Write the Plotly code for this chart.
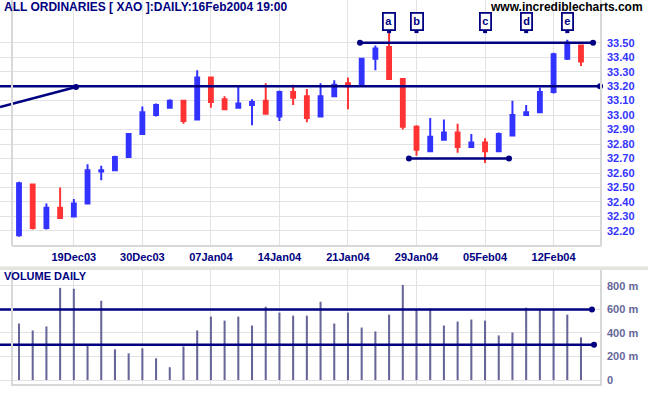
import plotly.graph_objects as go

# ---------------- data ----------------
opens  = [32.17, 32.52, 32.22, 32.36, 32.30, 32.39, 32.61, 32.62, 32.71, 32.87,
          33.00, 33.05, 33.10, 32.97, 33.26, 33.11, 33.05, 33.07, 33.10, 32.99,
          33.16, 33.13, 32.99, 33.13, 33.22, 33.21, 33.39, 33.47, 33.25, 32.92,
          32.75, 32.83, 32.88, 32.78, 32.81, 32.75, 32.86, 33.00, 33.02, 33.16,
          33.39, 33.48]
highs  = [32.54, 32.52, 32.39, 32.50, 32.42, 32.66, 32.65, 32.72, 32.87, 33.06,
          33.08, 33.11, 33.10, 33.31, 33.26, 33.13, 33.20, 33.11, 33.22, 33.17,
          33.21, 33.18, 33.22, 33.24, 33.26, 33.39, 33.48, 33.58, 33.25, 32.93,
          32.98, 32.97, 32.94, 32.87, 32.84, 32.88, 33.10, 33.07, 33.19, 33.43,
          33.52, 33.48]
lows   = [32.16, 32.21, 32.21, 32.29, 32.30, 32.39, 32.55, 32.62, 32.71, 32.87,
          32.99, 33.05, 32.94, 32.97, 33.05, 33.04, 33.05, 32.93, 33.01, 32.96,
          33.07, 32.95, 32.99, 33.13, 33.04, 33.21, 33.31, 33.25, 32.90, 32.72,
          32.75, 32.83, 32.74, 32.78, 32.67, 32.75, 32.86, 33.00, 33.02, 33.15,
          33.38, 33.34]
closes = [32.53, 32.22, 32.36, 32.29, 32.39, 32.62, 32.62, 32.71, 32.87, 33.02,
          33.07, 33.10, 32.96, 33.26, 33.09, 33.04, 33.08, 33.09, 33.01, 33.16,
          33.12, 32.98, 33.13, 33.21, 33.20, 33.39, 33.46, 33.25, 32.92, 32.76,
          32.85, 32.88, 32.78, 32.81, 32.75, 32.87, 33.00, 33.02, 33.16, 33.42,
          33.50, 33.37]
volumes_m = [480, 421, 455, 783, 775, 295, 674, 261, 227, 269,
             185, 109, 286, 421, 539, 505, 539, 463, 623, 573,
             547, 547, 665, 480, 573, 446, 413, 556, 808, 598,
             606, 463, 497, 514, 505, 379, 404, 615, 598, 598,
             556, 362]
day_index = list(range(len(closes)))

tick_index  = [4, 9, 14, 19, 24, 29, 34, 39]
tick_labels = ["19Dec03", "30Dec03", "07Jan04", "14Jan04",
               "21Jan04", "29Jan04", "05Feb04", "12Feb04"]
price_ticks = [round(32.2 + 0.1 * i, 2) for i in range(14)]
vol_ticks = [0, 200, 400, 600, 800]
vol_tick_labels = ["0", "200 m", "400 m", "600 m", "800 m"]

# annotation letters (bar index)
wave_letters = ["a", "b", "c", "d", "e"]
wave_index = [27, 29, 34, 37, 40]

# trend lines (bar-index, price)
X_LEFT, X_RIGHT = -1.386, 42.46
res_top = dict(x=[24.88, 41.88], y=[33.50, 33.50])
res_mid = dict(x=[X_LEFT, 42.39], y=[33.20, 33.20])
rise_line = dict(x=[X_LEFT, 4.16], y=[33.056, 33.194])
support = dict(x=[28.45, 35.75], y=[32.70, 32.70])
vol_hi = dict(x=[X_LEFT, 41.80], y=[600, 600])
vol_lo = dict(x=[X_LEFT, 41.95], y=[300, 300])

NAVY = "#000080"
BLUE = "#3333ff"
RED = "#ff3333"
GRID = "#e2e2e2"
FONT = "Liberation Sans, Arial, sans-serif"

# layout geometry (pixels)
W, H = 651, 395
ML, MR, MT, MB = 0, 50, 0, 9
PW, PH = W - ML - MR, H - MT - MB


def px(xp):
    return xp / PW


def py(yp):
    return (PH - yp) / PH


fig = go.Figure()

fig.add_trace(go.Candlestick(
    x=day_index, open=opens, high=highs, low=lows, close=closes,
    increasing=dict(line=dict(color=BLUE, width=2), fillcolor=BLUE),
    decreasing=dict(line=dict(color=RED, width=2), fillcolor=RED),
    whiskerwidth=0, xaxis="x", yaxis="y", showlegend=False, hoverinfo="skip"))

fig.add_trace(go.Bar(x=day_index, y=volumes_m, width=0.15,
                     marker=dict(color="#666699", line=dict(width=0)),
                     xaxis="x2", yaxis="y2", showlegend=False, hoverinfo="skip"))

line_style = dict(color=NAVY, width=2.5)
for ln, ax, dots in [(res_top, "y", "both"), (res_mid, "y", "end"),
                     (rise_line, "y", "end"), (support, "y", "both"),
                     (vol_hi, "y2", "end"), (vol_lo, "y2", "end")]:
    xa = "x" if ax == "y" else "x2"
    fig.add_trace(go.Scatter(x=ln["x"], y=ln["y"], mode="lines", line=line_style,
                             xaxis=xa, yaxis=ax, showlegend=False, hoverinfo="skip"))
    dx = ln["x"] if dots == "both" else ln["x"][1:]
    dy = ln["y"] if dots == "both" else ln["y"][1:]
    fig.add_trace(go.Scatter(x=dx, y=dy, mode="markers",
                             marker=dict(color=NAVY, size=6), cliponaxis=False,
                             xaxis=xa, yaxis=ax, showlegend=False, hoverinfo="skip"))

# little stems under letter boxes
fig.add_trace(go.Scatter(x=wave_index, y=[33.58] * len(wave_index), mode="markers",
                         marker=dict(color=NAVY, size=4, symbol="square"),
                         xaxis="x", yaxis="y", showlegend=False, hoverinfo="skip"))

shapes = []
frame = dict(color="#d8d8d8", width=2)
# price frame
shapes.append(dict(type="line", xref="paper", yref="paper", x0=px(12), x1=px(12), y0=py(246), y1=py(0), line=frame))
shapes.append(dict(type="line", xref="paper", yref="paper", x0=px(12), x1=px(601), y0=py(246), y1=py(246), line=frame))
shapes.append(dict(type="line", xref="paper", yref="paper", x0=px(601), x1=px(601), y0=py(246), y1=py(0), line=frame))
# separator band
shapes.append(dict(type="rect", xref="paper", yref="paper", x0=0, x1=px(648), y0=py(270), y1=py(266.5),
                   fillcolor="#e4e4dc", line=dict(width=0), layer="below"))
# volume frame
shapes.append(dict(type="line", xref="paper", yref="paper", x0=px(12), x1=px(12), y0=py(386), y1=py(270), line=frame))
shapes.append(dict(type="line", xref="paper", yref="paper", x0=px(12), x1=px(601), y0=py(385), y1=py(385), line=frame))
shapes.append(dict(type="line", xref="paper", yref="paper", x0=px(601), x1=px(601), y0=py(386), y1=py(270), line=frame))

annotations = [
    dict(text="ALL ORDINARIES [ XAO ]:DAILY:16Feb2004 19:00", xref="paper", yref="paper",
         x=px(2), y=py(7.5), xanchor="left", yanchor="middle", showarrow=False,
         font=dict(family=FONT, size=12, color=NAVY, weight="bold")),
    dict(text="www.incrediblecharts.com", xref="paper", yref="paper",
         x=px(645), y=py(7), xanchor="right", yanchor="middle", showarrow=False,
         font=dict(family=FONT, size=12, color="#000000", weight="bold")),
    dict(text="VOLUME DAILY", xref="paper", yref="paper",
         x=px(2), y=py(276), xanchor="left", yanchor="middle", showarrow=False,
         font=dict(family=FONT, size=11, color=NAVY, weight="bold")),
]
for letter, idx in zip(wave_letters, wave_index):
    annotations.append(dict(text=letter, xref="x", yref="paper", x=idx, y=py(22),
                            xanchor="center", yanchor="middle", showarrow=False,
                            bgcolor="white", bordercolor=NAVY, borderwidth=1.8, borderpad=1.5,
                            font=dict(family=FONT, size=11, color=NAVY, weight="bold")))

fig.update_layout(
    width=W, height=H,
    margin=dict(l=ML, r=MR, t=MT, b=MB, pad=0),
    paper_bgcolor="white", plot_bgcolor="white",
    boxgap=0.6,
    showlegend=False,
    xaxis=dict(domain=[0, 1], anchor="y", range=[X_LEFT, X_RIGHT],
               tickmode="array", tickvals=tick_index, ticktext=tick_labels,
               showgrid=True, gridcolor=GRID, gridwidth=1, zeroline=False, showline=False,
               ticks="", ticklabelstandoff=3,
               tickfont=dict(family=FONT, size=11, color=NAVY, weight="bold"),
               rangeslider=dict(visible=False), fixedrange=True),
    xaxis2=dict(domain=[0, 1], anchor="y2", range=[X_LEFT, X_RIGHT],
                tickmode="array", tickvals=tick_index, showticklabels=False,
                showgrid=True, gridcolor=GRID, gridwidth=1, zeroline=False, showline=False,
                ticks="", fixedrange=True),
    yaxis=dict(domain=[py(246), 1], anchor="x", side="right", range=[32.096, 33.795],
               tickmode="array", tickvals=price_ticks, ticktext=[f"{v:.2f}" for v in price_ticks],
               showgrid=True, gridcolor=GRID, gridwidth=1, zeroline=False, showline=False,
               ticks="", ticklabelstandoff=5,
               tickfont=dict(family=FONT, size=11, color=BLUE, weight="bold"), fixedrange=True),
    yaxis2=dict(domain=[0, py(270)], anchor="x2", side="right", range=[-50.5, 934.7],
                tickmode="array", tickvals=vol_ticks, ticktext=vol_tick_labels,
                showgrid=True, gridcolor=GRID, gridwidth=1, zeroline=False, showline=False,
                ticks="", ticklabelstandoff=5,
                tickfont=dict(family=FONT, size=11, color="#666699", weight="bold"), fixedrange=True),
    shapes=shapes,
    annotations=annotations,
)

fig.write_html("out.html")
